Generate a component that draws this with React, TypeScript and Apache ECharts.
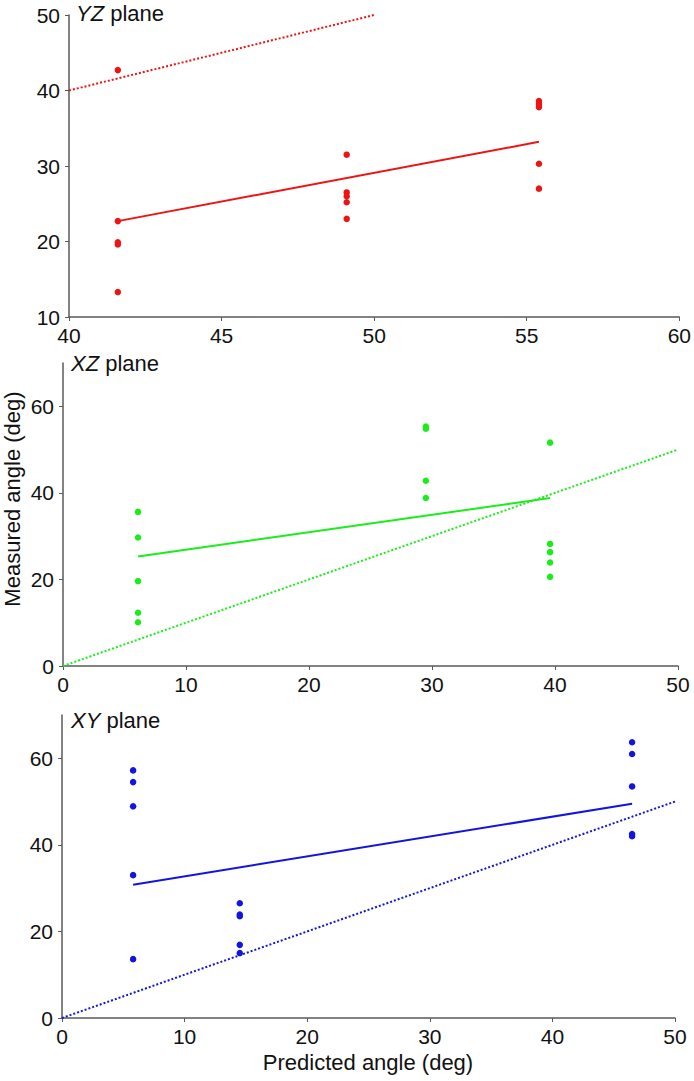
import React, { useEffect, useRef } from "react";
import * as echarts from "echarts";

// Panel 1: YZ plane
const yzPoints: number[][] = [
  [41.6, 42.7], [41.6, 22.7], [41.6, 19.9], [41.6, 19.6], [41.6, 13.3],
  [49.1, 31.5], [49.1, 26.5], [49.1, 26.0], [49.1, 25.2], [49.1, 23.0],
  [55.4, 38.6], [55.4, 38.2], [55.4, 37.8], [55.4, 30.3], [55.4, 27.0],
];
const yzFit: number[][] = [[41.6, 22.7], [55.4, 33.2]];
const yzIdentity: number[][] = [[40, 40], [50, 50]];

// Panel 2: XZ plane
const xzPoints: number[][] = [
  [6.1, 35.6], [6.1, 29.7], [6.1, 19.6], [6.1, 12.3], [6.1, 10.1],
  [29.5, 55.3], [29.5, 54.8], [29.5, 42.8], [29.5, 38.8],
  [39.6, 51.6], [39.6, 28.2], [39.6, 26.3], [39.6, 23.9], [39.6, 20.6],
];
const xzFit: number[][] = [[6.1, 25.3], [39.6, 38.8]];
const xzIdentity: number[][] = [[0, 0], [50, 50]];

// Panel 3: XY plane
const xyPoints: number[][] = [
  [5.8, 57.2], [5.8, 54.5], [5.8, 48.9], [5.8, 33.0], [5.8, 13.6],
  [14.5, 26.5], [14.5, 23.9], [14.5, 23.5], [14.5, 16.9], [14.5, 15.0],
  [46.5, 63.7], [46.5, 61.0], [46.5, 53.5], [46.5, 42.5], [46.5, 42.0],
];
const xyFit: number[][] = [[5.8, 30.8], [46.5, 49.5]];
const xyIdentity: number[][] = [[0, 0], [50, 50]];

const xTicks1 = [40, 45, 50, 55, 60];
const yTicks1 = [10, 20, 30, 40, 50];
const xTicks23 = [0, 10, 20, 30, 40, 50];
const yTicks23 = [0, 20, 40, 60];

const RED = "#ee1414";
const GREEN = "#1aee1a";
const BLUE = "#1414e0";
const FONT = "Liberation Sans, Arial, sans-serif";
const AXIS_COLOR = "#5a5a5a";
const TICK_FS = 21;

function xAxisOf(grid: number, min: number, max: number, interval: number, ticks: number[]) {
  return {
    gridIndex: grid, type: "value", min, max, interval,
    axisLine: { show: true, lineStyle: { color: AXIS_COLOR, width: 1.5 } },
    axisTick: { show: true, length: 4, customValues: ticks, lineStyle: { color: AXIS_COLOR } },
    axisLabel: { customValues: ticks, color: "#111", fontSize: TICK_FS, fontFamily: FONT, margin: 8 },
    splitLine: { show: false },
  };
}
function yAxisOf(grid: number, min: number, max: number, interval: number, ticks: number[]) {
  return {
    gridIndex: grid, type: "value", min, max, interval,
    axisLine: { show: true, lineStyle: { color: AXIS_COLOR, width: 1.5 } },
    axisTick: { show: true, length: 4, customValues: ticks, lineStyle: { color: AXIS_COLOR } },
    axisLabel: { customValues: ticks, color: "#111", fontSize: TICK_FS, fontFamily: FONT, margin: 9 },
    splitLine: { show: false },
  };
}

export default function App() {
  const ref = useRef<HTMLDivElement>(null);
  useEffect(() => {
    if (!ref.current) return;
    const chart = echarts.init(ref.current, undefined, { renderer: "svg" });
    const titleRich = {
      i: { fontStyle: "italic" as const, fontWeight: "normal" as const, fontSize: 22, fontFamily: FONT, color: "#111" },
      n: { fontWeight: "normal" as const, fontSize: 22, fontFamily: FONT, color: "#111" },
    };
    const scatter = (data: number[][], idx: number, color: string) => ({
      type: "scatter",
      xAxisIndex: idx,
      yAxisIndex: idx,
      data,
      symbolSize: 6.5,
      itemStyle: { color, opacity: 1 },
      z: 3,
    });
    const line = (data: number[][], idx: number, color: string, dotted: boolean) => ({
      type: "line",
      xAxisIndex: idx,
      yAxisIndex: idx,
      data,
      symbol: "none",
      lineStyle: { color, width: 2, type: dotted ? "dotted" : "solid" },
      z: 2,
    });
    chart.setOption({
      animation: false,
      backgroundColor: "#ffffff",
      title: [
        { text: "{i|YZ}{n| plane}", left: 76, top: 2, padding: 0, textStyle: { fontWeight: "normal", rich: titleRich } },
        { text: "{i|XZ}{n| plane}", left: 71, top: 352, padding: 0, textStyle: { fontWeight: "normal", rich: titleRich } },
        { text: "{i|XY}{n| plane}", left: 71, top: 709, padding: 0, textStyle: { fontWeight: "normal", rich: titleRich } },
      ],
      grid: [
        { left: 69, top: 15, width: 612, height: 302 },
        { left: 63, top: 363, width: 615, height: 303 },
        { left: 62, top: 715, width: 613, height: 303 },
      ],
      xAxis: [
        xAxisOf(0, 40, 60, 5, xTicks1),
        xAxisOf(1, 0, 50, 10, xTicks23),
        xAxisOf(2, 0, 50, 10, xTicks23),
      ],
      yAxis: [
        yAxisOf(0, 10, 50, 10, yTicks1),
        yAxisOf(1, 0, 70, 20, yTicks23),
        yAxisOf(2, 0, 70, 20, yTicks23),
      ],
      graphic: [
        {
          type: "text",
          x: 12,
          y: 499,
          rotation: Math.PI / 2,
          style: {
            text: "Measured angle (deg)",
            fontSize: 22,
            fontFamily: FONT,
            fill: "#111",
            align: "center",
            verticalAlign: "middle",
          },
        },
        {
          type: "text",
          x: 368,
          y: 1062,
          style: {
            text: "Predicted angle (deg)",
            fontSize: 22,
            fontFamily: FONT,
            fill: "#111",
            align: "center",
            verticalAlign: "middle",
          },
        },
      ],
      series: [
        line(yzIdentity, 0, RED, true),
        line(yzFit, 0, RED, false),
        scatter(yzPoints, 0, RED),
        line(xzIdentity, 1, GREEN, true),
        line(xzFit, 1, GREEN, false),
        scatter(xzPoints, 1, GREEN),
        line(xyIdentity, 2, BLUE, true),
        line(xyFit, 2, BLUE, false),
        scatter(xyPoints, 2, BLUE),
      ],
    });
    return () => chart.dispose();
  }, []);
  return (
    <div
      ref={ref}
      style={{ position: "fixed", left: 0, top: 0, width: 694, height: 1081, background: "#fff" }}
    />
  );
}
